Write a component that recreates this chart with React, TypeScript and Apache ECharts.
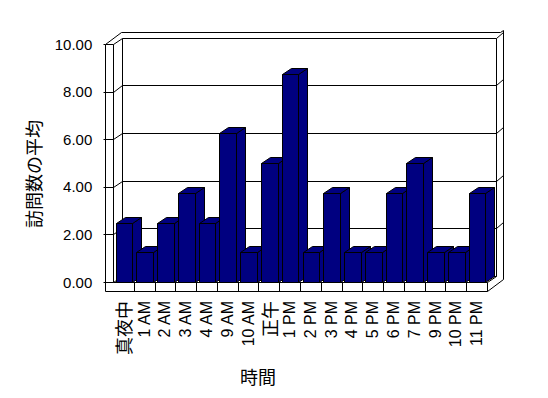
import React, { useEffect, useRef } from "react";
import * as echarts from "echarts";

const categories = ["真夜中", "1 AM", "2 AM", "3 AM", "4 AM", "9 AM", "10 AM", "正午", "1 PM", "2 PM", "3 PM", "4 PM", "5 PM", "6 PM", "7 PM", "9 PM", "10 PM", "11 PM"];
const visits = [2.5, 1.25, 2.5, 3.75, 2.5, 6.25, 1.25, 5, 8.75, 1.25, 3.75, 1.25, 1.25, 3.75, 5, 1.25, 1.25, 3.75];
const yTicks = [0, 2, 4, 6, 8, 10];
const xTitle = "時間";
const yTitle = "訪問数の平均";

const Y_MAX = 10;
const DX = 8.5;
const DY = -6.3;
const WALL_T = 7.7;
const FLOOR_T = 9;
const NAVY = "#000080";

const p = (v: number) => Math.round(v) + 0.5;

const line = (x1: number, y1: number, x2: number, y2: number) => ({
  type: "line",
  shape: { x1: p(x1), y1: p(y1), x2: p(x2), y2: p(y2) },
  style: { stroke: "#000", lineWidth: 1, fill: null },
});

const frameRender = (_params: any, api: any) => {
  const bw = api.size([1, 0])[0];
  const c0 = api.coord([0, 0]);
  const L = c0[0] - bw / 2;
  const R = L + categories.length * bw;
  const yF = (v: number) => api.coord([0, v])[1];
  const y0 = yF(0);
  const yT = yF(Y_MAX);
  const ch: any[] = [];
  // back wall face
  ch.push({
    type: "rect",
    shape: { x: p(L + DX), y: p(yT + DY), width: Math.round(R - L), height: Math.round(y0 - yT) },
    style: { fill: "#fff", stroke: "#000", lineWidth: 1 },
  });
  // gridlines on back wall + left wall diagonals + right slab diagonals
  yTicks.forEach((v) => {
    const yb = yF(v) + DY;
    if (v !== 0 && v !== Y_MAX) ch.push(line(L + DX, yb, R + DX, yb));
    ch.push(line(L, yF(v), L + DX, yb));
    // front of left wall tick across thickness
    ch.push(line(L - WALL_T, yF(v), L, yF(v)));
    // outside tick
    ch.push(line(L - WALL_T - 2, yF(v), L - WALL_T, yF(v)));
    if (v !== Y_MAX && v !== 0) ch.push(line(R + DX, yb, R + DX + 7, yb - 6));
  });
  // left wall inner vertical
  ch.push(line(L, yT, L, y0));
  // left wall outer vertical
  ch.push(line(L - WALL_T, yT, L - WALL_T, y0 + FLOOR_T));
  // outer top outline
  const yOut = yT - 11.7;
  ch.push({
    type: "polyline",
    shape: {
      points: [
        [p(L - WALL_T), p(yT)],
        [p(L - WALL_T + 15.4), p(yOut)],
        [p(R + DX + 4.5), p(yOut)],
        [p(R + DX + 7), p(yOut - 2)],
        [p(R + DX + 7), p(y0 + FLOOR_T - 12)],
        [p(R), p(y0 + FLOOR_T)],
      ],
    },
    style: { stroke: "#000", lineWidth: 1, fill: null },
  });
  // back wall top-right corner to outer
  ch.push(line(R + DX, yT + DY, R + DX + 7, yOut));
  // floor front face
  ch.push(line(L, y0, R, y0));
  ch.push(line(L - WALL_T, y0 + FLOOR_T, R, y0 + FLOOR_T));
  for (let k = 1; k <= categories.length; k++) {
    ch.push(line(L + k * bw, y0, L + k * bw, y0 + FLOOR_T));
  }
  // floor right edge going back
  ch.push(line(R, y0, R + DX, y0 + DY));
  return { type: "group", children: ch };
};

const barRender = (_params: any, api: any) => {
  const i = api.value(0);
  const v = api.value(1);
  const top = api.coord([i, v]);
  const bot = api.coord([i, 0]);
  const bw = api.size([1, 0])[0];
  const w = bw * 0.8;
  const x0 = p(top[0] - w / 2 + 0.5);
  const x1 = p(top[0] + w / 2 + 0.5);
  const yt = p(top[1]);
  const yb = p(bot[1]);
  const dx = Math.round(DX);
  const dy = Math.round(DY);
  const st = { fill: NAVY, stroke: "#000", lineWidth: 1 };
  return {
    type: "group",
    children: [
      {
        type: "polygon",
        shape: { points: [[x1, yt], [x1 + dx, yt + dy], [x1 + dx, yb + dy], [x1, yb]] },
        style: st,
      },
      {
        type: "polygon",
        shape: { points: [[x0, yt], [x1, yt], [x1 + dx, yt + dy], [x0 + dx, yt + dy]] },
        style: st,
      },
      {
        type: "rect",
        shape: { x: x0, y: yt, width: x1 - x0, height: yb - yt },
        style: st,
      },
    ],
  };
};

export default function App() {
  const ref = useRef<HTMLDivElement>(null);
  useEffect(() => {
    if (!ref.current) return;
    const chart = echarts.init(ref.current, null, { renderer: "svg" });
    chart.setOption({
      animation: false,
      backgroundColor: "#fff",
      grid: { left: 113, right: 61, top: 44, bottom: 116 },
      xAxis: {
        type: "category",
        data: categories,
        axisLine: { show: false },
        axisTick: { show: false },
        axisLabel: {
          rotate: 90,
          margin: 19,
          interval: 0,
          color: "#000",
          fontSize: 16,
          fontFamily: "Liberation Sans",
          formatter: (val: string) => (/[^\x00-\x7F]/.test(val) ? `{c|${val}}` : val),
          rich: { c: { fontSize: 18, fontFamily: "Noto Sans CJK JP", color: "#000" } },
        },
        splitLine: { show: false },
      },
      yAxis: {
        type: "value",
        min: 0,
        max: Y_MAX,
        interval: 2,
        offset: WALL_T,
        axisLine: { show: false },
        axisTick: { show: false },
        splitLine: { show: false },
        axisLabel: {
          margin: 13,
          color: "#000",
          fontSize: 15,
          fontFamily: "Liberation Sans",
          formatter: (v: number) => v.toFixed(2),
        },
      },
      graphic: [
        {
          type: "text",
          x: 258,
          y: 376,
          style: { text: xTitle, fontSize: 18, fontFamily: "Noto Sans CJK JP", fill: "#000", align: "center", verticalAlign: "middle" },
        },
        {
          type: "text",
          x: 33,
          y: 174,
          rotation: Math.PI / 2,
          style: { text: yTitle, fontSize: 18, fontFamily: "Noto Sans CJK JP", fill: "#000", align: "center", verticalAlign: "middle" },
        },
      ],
      series: [
        {
          type: "custom",
          z: 1,
          renderItem: frameRender,
          data: [[0, 0]],
          silent: true,
        },
        {
          type: "custom",
          z: 2,
          renderItem: barRender,
          data: visits.map((v, i) => [i, v]),
        },
      ],
    });
    return () => chart.dispose();
  }, []);
  return <div ref={ref} style={{ position: "fixed", left: 0, top: 0, width: 548, height: 398 }} />;
}
